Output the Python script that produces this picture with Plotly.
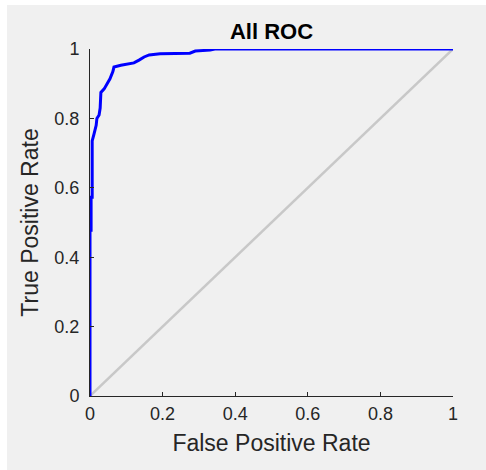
import plotly.graph_objects as go

# ROC curve values
fpr = [0.0, 0.0, 0.003, 0.003, 0.006, 0.006, 0.011, 0.017, 0.019, 0.025, 0.028, 0.030, 0.030,
       0.039, 0.047, 0.055, 0.063, 0.066, 0.085, 0.102, 0.121, 0.135, 0.149, 0.163, 0.193,
       0.275, 0.290, 0.331, 0.344, 1.0]
tpr = [0.0, 0.478, 0.478, 0.573, 0.573, 0.735, 0.755, 0.780, 0.800, 0.810, 0.830, 0.855, 0.875,
       0.885, 0.900, 0.914, 0.935, 0.948, 0.953, 0.956, 0.960, 0.968, 0.977, 0.983, 0.986,
       0.988, 0.994, 0.997, 1.0, 1.0]
diag_x = [0, 1]
diag_y = [0, 1]
tick_vals = [0, 0.2, 0.4, 0.6, 0.8, 1]
tick_text = ["0", "0.2", "0.4", "0.6", "0.8", "1"]

W, H = 486, 470
L, R, T, B = 90, 33, 49, 74
pw, ph = W - L - R, H - T - B
FONT = "Liberation Sans, Arial, Helvetica, sans-serif"
GREY = "#f0f0f0"

fig = go.Figure()
fig.add_trace(go.Scatter(x=diag_x, y=diag_y, mode="lines",
                         line=dict(color="#c8c8c8", width=2.5), hoverinfo="skip",
                         showlegend=False))
fig.add_trace(go.Scatter(x=fpr, y=tpr, mode="lines",
                         line=dict(color="#0000ff", width=3), cliponaxis=False,
                         showlegend=False))

# grey figure background (white strip at top and left as in the screenshot)
fig.add_shape(type="rect", xref="paper", yref="paper", layer="below",
              x0=(7 - L) / pw, x1=(W + 20 - L) / pw,
              y0=(H - B - (H + 20)) / ph, y1=(H - B - 5) / ph,
              fillcolor=GREY, line=dict(width=0))

axis_common = dict(range=[0, 1], tickvals=tick_vals, ticktext=tick_text,
                   showgrid=False, zeroline=False, showline=True,
                   linecolor="#262626", linewidth=1, ticks="inside", ticklen=4,
                   tickcolor="#262626", tickfont=dict(family=FONT, size=18, color="#262626"))

fig.update_layout(
    width=W, height=H,
    margin=dict(l=L, r=R, t=T, b=B),
    paper_bgcolor="white", plot_bgcolor="white",
    title=dict(text="<b>All ROC</b>", x=(L + pw / 2) / W, xanchor="center",
               y=1 - 31 / H, yanchor="middle",
               font=dict(family=FONT, size=22, color="black")),
    xaxis=dict(axis_common, title=dict(text="False Positive Rate", standoff=12,
                                       font=dict(family=FONT, size=23, color="#262626")),
               ticklabelstandoff=1),
    yaxis=dict(axis_common, title=dict(text="True Positive Rate", standoff=9,
                                       font=dict(family=FONT, size=23, color="#262626")),
               ticklabelstandoff=6),
)

fig.write_html(
    "out.html",
    config={"displayModeBar": False},
    post_script=("document.body.style.margin='0';"
                 "document.documentElement.style.background='" + GREY + "';"
                 "document.body.style.background='" + GREY + "';"),
)
